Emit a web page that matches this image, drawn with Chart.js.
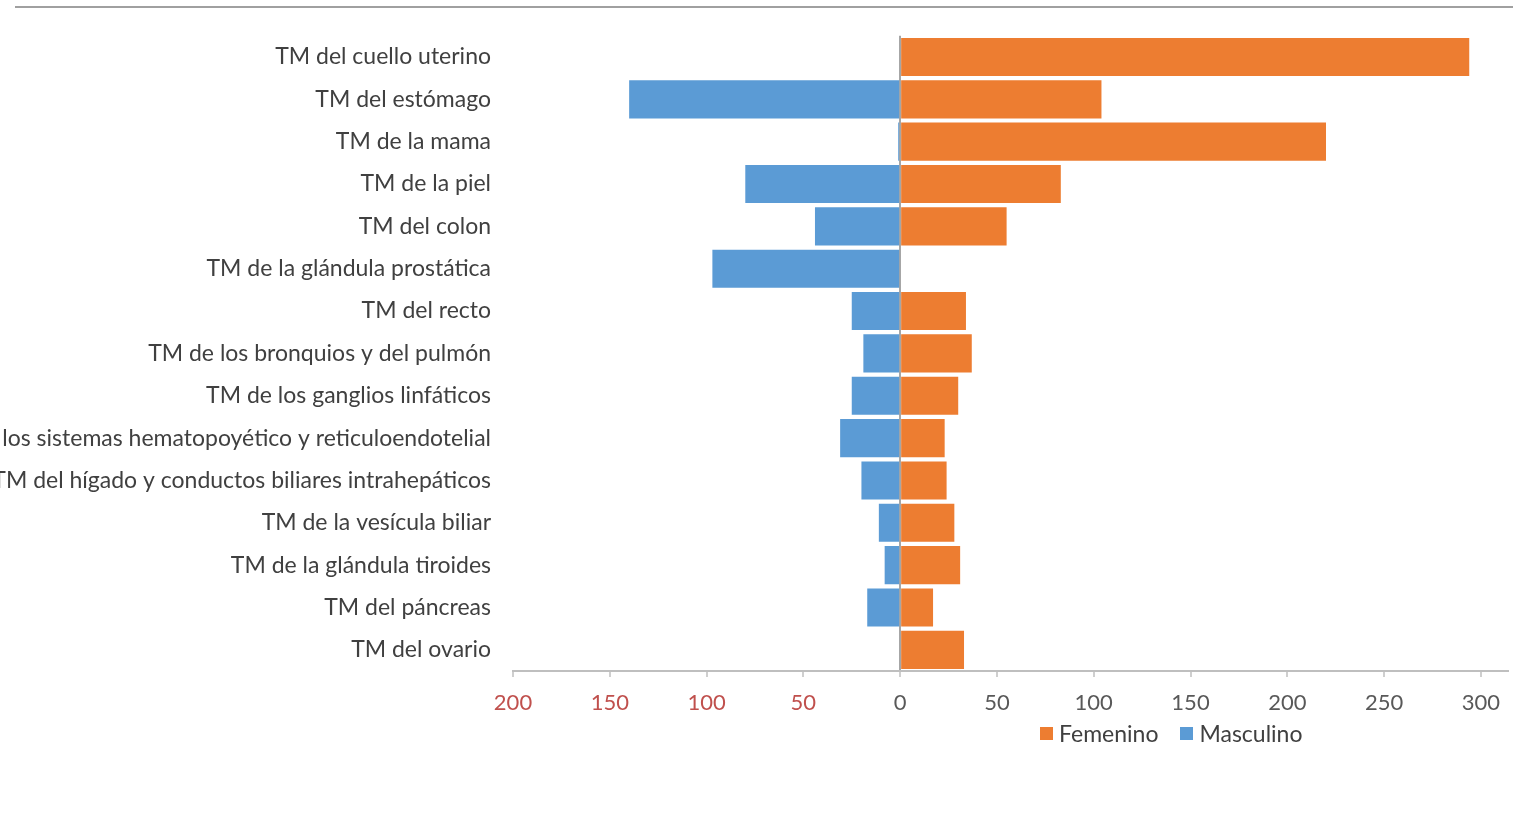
<!DOCTYPE html>
<html lang="es">
<head>
    <meta charset="UTF-8">
    <title>Tumores malignos por sexo</title>
    <script src="https://cdn.jsdelivr.net/npm/chart.js"></script>
    <style>
        * { margin: 0; padding: 0; box-sizing: border-box; }
        body { background: #fff; width: 1513px; height: 813px; overflow: hidden; font-family: 'Lato', 'Open Sans', sans-serif; }
        .frame { position: relative; width: 1513px; height: 813px; }
        .topline { position: absolute; left: 15px; right: 0; top: 6px; height: 2px; background: #a0a0a0; }
        #legend { position: absolute; left: 1040px; top: 719px; display: flex; gap: 22px; font-size: 23px; color: #404040; }
        #legend span.item { display: flex; align-items: center; }
        #legend i { display: inline-block; width: 13px; height: 13px; margin-right: 6px; }
    </style>
</head>
<body>
<div class="frame">
    <div class="topline"></div>
    <canvas id="chart" width="1513" height="813"></canvas>
    <div id="legend"></div>
</div>

<script>
    // categorias (de arriba hacia abajo)
    var categorias = [
        'TM del cuello uterino',
        'TM del estómago',
        'TM de la mama',
        'TM de la piel',
        'TM del colon',
        'TM de la glándula prostática',
        'TM del recto',
        'TM de los bronquios y del pulmón',
        'TM de los ganglios linfáticos',
        'TM de los sistemas hematopoyético y reticuloendotelial',
        'TM del hígado y conductos biliares intrahepáticos',
        'TM de la vesícula biliar',
        'TM de la glándula tiroides',
        'TM del páncreas',
        'TM del ovario'
    ];

    var femenino = [294, 104, 220, 83, 55, 0, 34, 37, 30, 23, 24, 28, 31, 17, 33];
    // masculino se dibuja hacia la izquierda (valores negativos)
    var masculino = [0, -140, -1, -80, -44, -97, -25, -19, -25, -31, -20, -11, -8, -17, 0];

    var ticksX = [-200, -150, -100, -50, 0, 50, 100, 150, 200, 250, 300];

    var naranja = '#ED7D31';
    var azul = '#5B9BD5';

    var ctx = document.getElementById('chart').getContext('2d');
    var chart = new Chart(ctx, {
        type: 'bar',
        data: {
            labels: categorias,
            datasets: [
                { label: 'Femenino', data: femenino, backgroundColor: naranja, barPercentage: 0.9, categoryPercentage: 1.0 },
                { label: 'Masculino', data: masculino, backgroundColor: azul, barPercentage: 0.9, categoryPercentage: 1.0 }
            ]
        },
        options: {
            indexAxis: 'y',
            responsive: false,
            animation: false,
            layout: { padding: { top: 33, right: 0, left: 0, bottom: 0 } },
            plugins: {
                legend: { display: false },
                tooltip: { enabled: false }
            },
            scales: {
                x: {
                    stacked: true,
                    min: -200,
                    max: 314,
                    afterBuildTicks: function (scale) {
                        scale.ticks = ticksX.map(function (v) { return { value: v }; });
                    },
                    afterFit: function (scale) { scale.height = 142; },
                    grid: {
                        color: function (c) { return c.tick && c.tick.value === 0 ? '#a6a6a6' : 'rgba(0,0,0,0)'; },
                        lineWidth: 2,
                        drawTicks: true,
                        tickLength: 6,
                        tickColor: '#bfbfbf',
                        tickWidth: 1.5
                    },
                    border: { display: true, color: '#bfbfbf', width: 2 },
                    ticks: {
                        padding: 13,
                        maxRotation: 0,
                        autoSkip: false,
                        font: { family: 'Lato', size: 22 },
                        color: function (c) { return c.tick.value < 0 ? '#c0504d' : '#595959'; },
                        callback: function (v) { return Math.abs(v); }
                    }
                },
                y: {
                    stacked: true,
                    afterFit: function (scale) { scale.width = 513; },
                    grid: { display: false, drawTicks: false },
                    border: { display: false },
                    ticks: {
                        padding: 22,
                        autoSkip: false,
                        font: { family: 'Lato', size: 23 },
                        color: '#404040'
                    }
                }
            }
        }
    });

    // leyenda en HTML a partir de los datasets
    var legend = document.getElementById('legend');
    chart.data.datasets.forEach(function (ds) {
        var item = document.createElement('span');
        item.className = 'item';
        var sw = document.createElement('i');
        sw.style.background = ds.backgroundColor;
        item.appendChild(sw);
        item.appendChild(document.createTextNode(ds.label));
        legend.appendChild(item);
    });
</script>
</body>
</html>
